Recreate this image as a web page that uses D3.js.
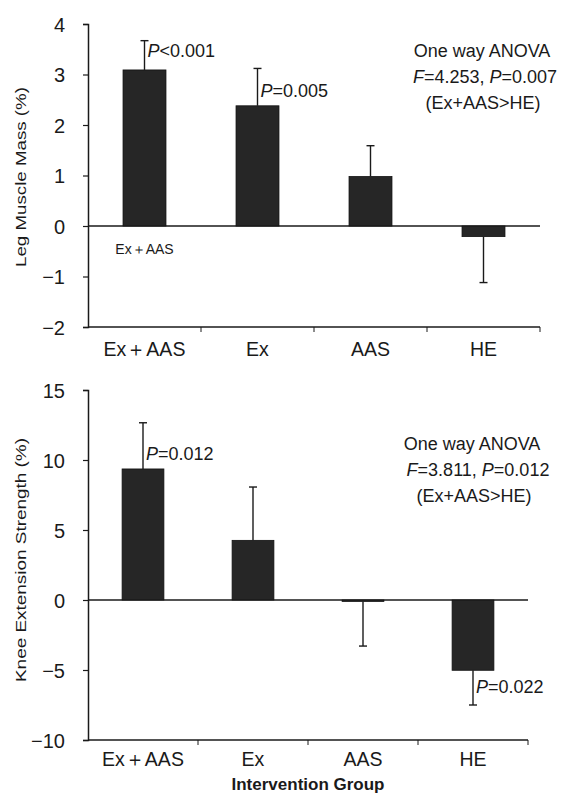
<!DOCTYPE html>
<html><head><meta charset="utf-8">
<script src="https://cdn.jsdelivr.net/npm/d3@7"></script>
<style>
html,body{margin:0;padding:0;background:#fff;}
svg{display:block;font-family:"Liberation Sans",Arial,sans-serif;}
</style></head>
<body>
<svg id="c" width="561" height="797"></svg>
<script>
// ---- data ----
const categories = ["Ex\uFF0BAAS", "Ex", "AAS", "HE"];
const legMassMean = [3.09, 2.38, 0.98, -0.21];
const legMassSD   = [0.58, 0.74, 0.61, 0.91];
const legMassTicks = [-2, -1, 0, 1, 2, 3, 4];
const kneeMean = [9.36, 4.26, -0.10, -5.02];
const kneeSD   = [3.30, 3.81, 3.19, 2.48];
const kneeTicks = [-10, -5, 0, 5, 10, 15];
const legMassPvals = [{i:0, text:"<0.001"}, {i:1, text:"=0.005"}];
const kneePvals = [{i:0, text:"=0.012"}, {i:3, text:"=0.022"}];
const legAnova = ["4.253", "0.007"];
const kneeAnova = ["3.811", "0.012"];

const svg = d3.select("#c");
const ink = "#1a1a1a";

function panel(o) {
  const g = svg.append("g");
  const y = d3.scaleLinear().domain(o.domain).range(o.yRange);
  const x = d3.scaleBand().domain(categories).range(o.xRange)
              .paddingInner(0.62).paddingOuter(0.31);
  const step = x.step();

  // y axis
  const ya = g.append("g").attr("transform", `translate(${o.xRange[0]},0)`)
    .call(d3.axisLeft(y).tickValues(o.ticks).tickSize(5).tickPadding(o.tickPad)
          .tickFormat(d3.format("d")));
  ya.select(".domain").attr("stroke", ink).attr("stroke-width", 1.5);
  ya.selectAll(".tick line").attr("stroke", ink).attr("stroke-width", 1.2);
  ya.selectAll(".tick text").attr("font-size", 20).attr("fill", ink)
    .attr("font-family", "Liberation Sans, Arial, sans-serif").attr("dy", "0.36em");

  // x axis at bottom (at domain min)
  const xb = g.append("g").attr("transform", `translate(0,${y(o.domain[0])})`);
  xb.append("line").attr("x1", o.xRange[0]).attr("x2", o.xRange[1])
    .attr("stroke", ink).attr("stroke-width", 1.6);
  xb.selectAll("line.tk").data(d3.range(1, categories.length + 1)).join("line")
    .attr("class", "tk")
    .attr("x1", i => o.xRange[0] + i * step).attr("x2", i => o.xRange[0] + i * step)
    .attr("y1", 0).attr("y2", 5).attr("stroke", ink).attr("stroke-width", 1);
  xb.selectAll("text").data(categories).join("text")
    .attr("x", d => x(d) + x.bandwidth() / 2)
    .attr("y", o.xLabelDy)
    .attr("text-anchor", "middle").attr("font-size", 19.5).attr("fill", ink)
    .text(d => d);

  // zero line
  g.append("line").attr("x1", o.xRange[0]).attr("x2", o.xRange[1])
    .attr("y1", y(0)).attr("y2", y(0)).attr("stroke", ink).attr("stroke-width", 1.6);

  // bars
  g.selectAll("rect.bar").data(o.mean).join("rect").attr("class", "bar")
    .attr("x", (d, i) => x(categories[i]))
    .attr("width", x.bandwidth())
    .attr("y", d => y(Math.max(0, d)))
    .attr("height", d => Math.abs(y(d) - y(0)))
    .attr("fill", "#262626").attr("stroke", "#111").attr("stroke-width", 0.8);

  // error bars (one-sided, away from zero)
  const end = (d, i) => y(d + (d >= 0 ? 1 : -1) * o.sd[i]);
  const cxf = (d, i) => x(categories[i]) + x.bandwidth() / 2;
  const eb = g.selectAll("g.err").data(o.mean).join("g").attr("class", "err");
  eb.append("line")
    .attr("x1", cxf).attr("x2", cxf)
    .attr("y1", d => y(d)).attr("y2", end)
    .attr("stroke", ink).attr("stroke-width", 1.4);
  eb.append("line")
    .attr("x1", (d, i) => cxf(d, i) - 4).attr("x2", (d, i) => cxf(d, i) + 4)
    .attr("y1", end).attr("y2", end)
    .attr("stroke", ink).attr("stroke-width", 1.4);

  // P annotations
  o.pvals.forEach((p, k) => {
    const cx = x(categories[p.i]) + x.bandwidth() / 2;
    const t = g.append("text").attr("x", cx + 3)
      .attr("y", y(o.mean[p.i]) + o.pDy[k])
      .attr("font-size", 18).attr("fill", ink);
    t.append("tspan").attr("font-style", "italic").text("P");
    t.append("tspan").text(p.text);
  });

  // ANOVA block
  const a = g.append("text").attr("text-anchor", "middle").attr("font-size", 18).attr("fill", ink);
  a.append("tspan").attr("x", o.anovaX[0]).attr("y", o.anovaY).text("One way ANOVA");
  const l2 = a.append("tspan").attr("x", o.anovaX[1]).attr("y", o.anovaY + 26);
  l2.append("tspan").attr("font-style", "italic").text("F");
  l2.append("tspan").text("=" + o.anova[0] + ", ");
  l2.append("tspan").attr("font-style", "italic").text("P");
  l2.append("tspan").text("=" + o.anova[1]);
  a.append("tspan").attr("x", o.anovaX[2]).attr("y", o.anovaY + 52).text("(Ex+AAS>HE)");

  // y title
  g.append("text")
    .attr("transform", `translate(${o.titleX},${o.titleY}) rotate(-90)`)
    .attr("text-anchor", "middle").attr("font-size", 15).attr("fill", ink)
    .attr("textLength", o.titleLen).attr("lengthAdjust", "spacingAndGlyphs")
    .text(o.title);
  return {x, y, g};
}

const topPanel = panel({
  domain: [-2, 4], yRange: [327, 24], xRange: [88, 540], ticks: legMassTicks,
  tickPad: 18, mean: legMassMean, sd: legMassSD, xLabelDy: 29,
  pvals: legMassPvals, pDy: [-13, -9],
  anova: legAnova, anovaX: [482, 485, 483], anovaY: 57,
  title: "Leg Muscle Mass (%)", titleX: 26, titleY: 177, titleLen: 180
});
topPanel.g.append("text").attr("x", topPanel.x(categories[0]) + topPanel.x.bandwidth() / 2)
  .attr("y", 254).attr("text-anchor", "middle").attr("font-size", 14).attr("fill", ink)
  .text(categories[0]);

const botPanel = panel({
  domain: [-10, 15], yRange: [740, 390], xRange: [88, 528], ticks: kneeTicks,
  tickPad: 18, mean: kneeMean, sd: kneeSD, xLabelDy: 26,
  pvals: kneePvals, pDy: [-9, 23],
  anova: kneeAnova, anovaX: [472, 478, 474], anovaY: 450,
  title: "Knee Extension Strength (%)", titleX: 26, titleY: 560, titleLen: 244
});

svg.append("text").attr("x", 308).attr("y", 790).attr("text-anchor", "middle")
  .attr("font-size", 17).attr("font-weight", "bold").attr("fill", ink)
  .text("Intervention Group");
</script>
</body></html>
